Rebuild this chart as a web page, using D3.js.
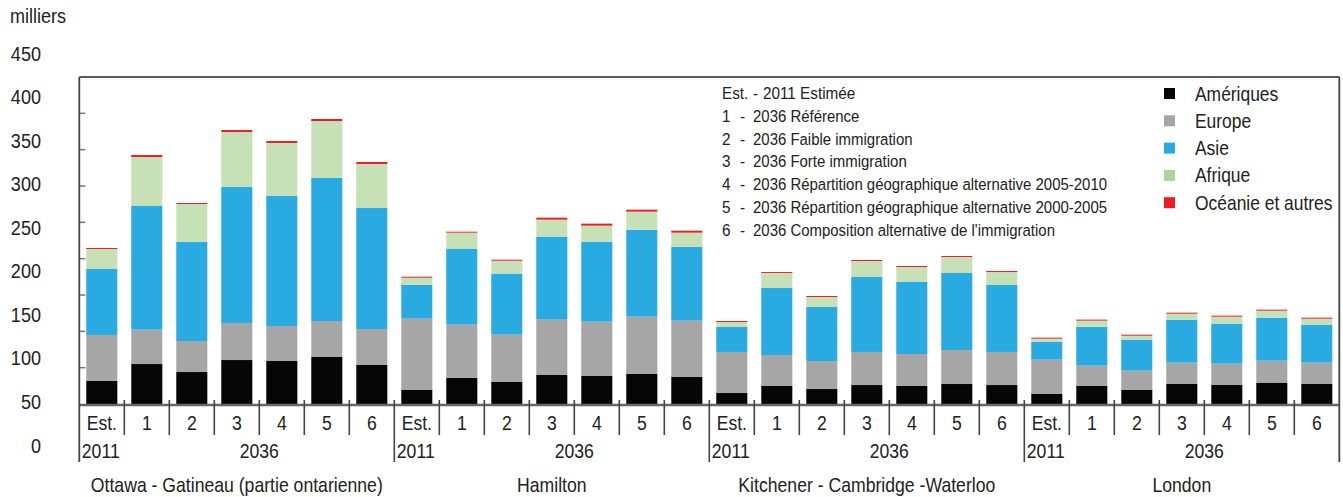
<!DOCTYPE html>
<html><head><meta charset="utf-8">
<script src="https://cdn.jsdelivr.net/npm/d3@7"></script>
<style>
html,body{margin:0;padding:0;background:#fff;}
svg text{font-family:"Liberation Sans",Arial,Helvetica,sans-serif;fill:#222;}
</style></head>
<body><svg id="c" width="1343" height="497"></svg>
<script>
const regions = ["Ottawa - Gatineau (partie ontarienne)", "Hamilton", "Kitchener - Cambridge -Waterloo", "London"];
const scenarios = ["Est.", "1", "2", "3", "4", "5", "6"];
const seriesNames = ["Amériques", "Europe", "Asie", "Afrique", "Océanie et autres"];
const seriesColors = ["#060606", "#a6a6a6", "#29abe2", "#c5e1b5", "#ed1c24"];
const legendColors = ["#060606", "#a6a6a6", "#29abe2", "#aed49b", "#ed1c24"];
const yTicks = [0, 50, 100, 150, 200, 250, 300, 350, 400, 450];
const scenarioNotes = [
  ["Est.", "2011 Estimée"],
  ["1", "2036 Référence"],
  ["2", "2036 Faible immigration"],
  ["3", "2036 Forte immigration"],
  ["4", "2036 Répartition géographique alternative 2005-2010"],
  ["5", "2036 Répartition géographique alternative 2000-2005"],
  ["6", "2036 Composition alternative de l'immigration"]
];
// values in thousands, 7 scenarios per region, regions in order
const ameriques = [31.7,55.0,44.0,60.5,59.2,64.7,53.7, 19.7,36.2,30.7,40.4,39.0,41.7,37.6, 15.1,24.8,20.6,26.1,24.8,27.5,26.1, 14.2,25.2,19.7,28.0,26.6,29.4,28.0];
const europe    = [63.3,47.3,42.7,51.0,48.1,49.5,49.5, 97.7,73.0,64.7,75.7,74.3,78.5,77.1, 56.5,42.6,38.6,45.5,44.0,46.8,45.5, 46.8,27.6,26.2,28.9,28.9,30.2,28.9];
const asie      = [90.8,170.2,136.2,187.1,178.9,196.8,166.5, 46.8,104.6,84.0,114.2,110.1,119.7,101.8, 34.4,92.2,74.3,103.2,99.1,106.0,92.2, 24.8,53.6,42.6,59.2,55.0,59.2,52.3];
const afrique   = [27.5,67.4,52.3,75.7,73.0,78.4,60.6, 9.6,22.0,17.8,23.4,22.0,24.8,19.3, 6.8,20.7,13.7,22.0,20.6,22.0,17.8, 4.1,8.3,5.5,8.2,9.7,9.6,8.2];
const oceanie   = [1.4,2.7,1.4,2.7,2.7,2.8,2.7, 1.4,1.3,1.4,2.7,2.8,2.7,2.7, 1.4,1.3,1.4,1.4,1.4,1.4,1.4, 1.4,1.4,1.4,1.4,1.4,1.4,1.4];

const seriesVals = [ameriques, europe, asie, afrique, oceanie];
const rows = ameriques.map((_, i) => {
  const r = {idx: i};
  seriesNames.forEach((s, k) => r[s] = seriesVals[k][i]);
  return r;
});

const svg = d3.select("#c");
const L = 79.3, R = 1339.3, T = 77, B = 404;
const nSc = scenarios.length;
const x = d3.scaleBand().domain(d3.range(rows.length)).range([L, R]).paddingInner(0.31).paddingOuter(0.155);
const y = d3.scaleLinear().domain([0, 450]).range([B, T]);
const yLab = d3.scaleLinear().domain([0, 450]).range([445, 53]);
const step = x.step();

function txt(g, px, py, s, size, sx, anchor) {
  return g.append("text")
    .attr("transform", `translate(${px},${py}) scale(${sx},1)`)
    .attr("text-anchor", anchor || "start")
    .attr("font-size", size).text(s);
}

// bars
const stack = d3.stack().keys(seriesNames)(rows);
svg.append("g").selectAll("g").data(stack).join("g")
  .attr("fill", (d, i) => seriesColors[i])
  .selectAll("rect").data(d => d).join("rect")
  .attr("x", d => x(d.data.idx))
  .attr("width", x.bandwidth())
  .attr("y", d => y(d[1]))
  .attr("height", d => y(d[0]) - y(d[1]));

// frame
const ax = svg.append("g").attr("fill", "none");
ax.append("line").attr("x1", L).attr("x2", R).attr("y1", T).attr("y2", T).attr("stroke-width", 2).attr("stroke", "#5a5a5a");
ax.append("line").attr("x1", L).attr("x2", R).attr("y1", B + 1).attr("y2", B + 1).attr("stroke-width", 2.5).attr("stroke", "#666");
// y ticks inside
ax.selectAll("line.yt").data(yTicks.filter(v => v > 0 && v < 450)).join("line")
  .attr("class", "yt").attr("x1", L).attr("x2", L + 6)
  .attr("y1", d => y(d)).attr("y2", d => y(d)).attr("stroke", "#777").attr("stroke-width", 1.5);
// left axis and right frame
[L, R].forEach(px => ax.append("line").attr("x1", px).attr("x2", px).attr("y1", T).attr("y2", 462).attr("stroke-width", 1.8).attr("stroke", "#444"));
// group separators below axis
const groupEdges = d3.range(1, regions.length).map(g => L + g * nSc * step);
ax.selectAll("line.gs").data(groupEdges).join("line")
  .attr("x1", d => d).attr("x2", d => d).attr("y1", 400).attr("y2", 462).attr("stroke-width", 1.6).attr("stroke", "#444");
// scenario ticks
const inner = d3.range(rows.length).filter(i => i % nSc !== 0).map(i => L + i * step);
ax.selectAll("line.st").data(inner).join("line")
  .attr("x1", d => d).attr("x2", d => d).attr("y1", 400).attr("y2", 435).attr("stroke-width", 1.6).attr("stroke", "#444");

// y tick labels
const yl = svg.append("g");
yTicks.forEach(v => txt(yl, 41, yLab(v) + 7.5, String(v), 21, 0.86, "end"));
txt(svg, 10, 23, "milliers", 20.5, 0.88);

// x labels
const xl = svg.append("g");
rows.forEach(d => txt(xl, x(d.idx) + x.bandwidth() / 2, 429.5, scenarios[d.idx % nSc], 20.5, 0.86, "middle"));
regions.forEach((r, g) => {
  const g0 = L + g * nSc * step;
  txt(xl, g0 + 2.5, 457.5, "2011", 20.5, 0.86);
  txt(xl, g0 + step + (nSc - 1) * step / 2, 457.5, "2036", 20.5, 0.86, "middle");
  txt(xl, g0 + nSc * step / 2, 492, r, 20.5, 0.86, "middle");
});

// scenario notes legend
const notes = svg.append("g");
scenarioNotes.forEach((n, i) => {
  const yy = 99 + i * 22.8;
  if (i === 0) {
    txt(notes, 722, yy, n[0], 17, 0.9);
    txt(notes, 753, yy, "-", 17, 0.9);
    txt(notes, 763, yy, n[1], 17, 0.9);
  } else {
    txt(notes, 722, yy, n[0], 17, 0.9);
    txt(notes, 740, yy, "-", 17, 0.9);
    txt(notes, 753, yy, n[1], 17, 0.88);
  }
});

// series legend
const lg = svg.append("g");
seriesNames.forEach((s, i) => {
  const cy = 93.5 + i * 27.3;
  lg.append("rect").attr("x", 1164).attr("y", cy - 5.5).attr("width", 11).attr("height", 11).attr("fill", legendColors[i]);
  txt(lg, 1195, cy + 7, s, 20.5, 0.85);
});
</script></body></html>
